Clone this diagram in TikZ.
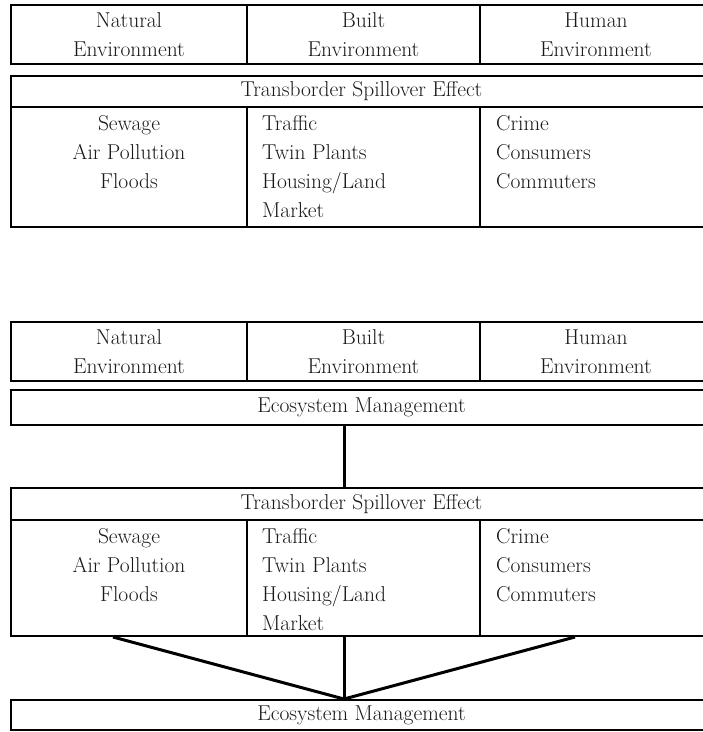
\documentclass[tikz,border=0pt]{standalone}
\usepackage{tikz}
\usetikzlibrary{positioning}

\newcommand{\diagfont}{\fontsize{21.5}{29}\selectfont}

\begin{document}
\begin{tikzpicture}[x=1pt, y=-1pt]
  \tikzset{
    cell/.style={draw, rectangle, line width=2.2pt, inner sep=0pt, outer sep=0pt, font=\diagfont, text=black!90},
    head/.style={cell, minimum height=59pt, align=center},
    bar/.style={cell, minimum width=701pt},
    txt/.style={inner sep=0pt, font=\diagfont, text=black!90},
    link/.style={line width=3pt}
  }
  \useasboundingbox (0,0) rectangle (703,732);

  % upper table
  \node[head, minimum width=236pt] (nat1) at (129,34.5) {Natural\\Environment};
  \node[head, minimum width=233pt, right=0pt of nat1] (blt1) {Built\\Environment};
  \node[head, minimum width=232pt, right=0pt of blt1] (hum1) {Human\\Environment};
  \node[bar, minimum height=31pt, below right=12pt and 0pt of nat1.south west] (spill1) {Transborder Spillover Effect};
  \node[cell, minimum width=236pt, minimum height=120pt, below right=0pt and 0pt of spill1.south west] (pol1) {};
  \node[cell, minimum width=233pt, minimum height=120pt, right=0pt of pol1] (bld1) {};
  \node[cell, minimum width=232pt, minimum height=120pt, right=0pt of bld1] (soc1) {};
  \node[txt, align=center, below=8pt of pol1.north] (pol1t) {Sewage\\Air Pollution\\Floods};
  \node[txt, align=left, below right=8pt and 15pt of bld1.north west] (bld1t) {Traffic\\Twin Plants\\Housing/Land\\Market};
  \node[txt, align=left, below right=8pt and 16pt of soc1.north west] (soc1t) {Crime\\Consumers\\Commuters};

  % lower table
  \node[head, minimum width=236pt, below right=95pt and 0pt of pol1.south west] (nat2) {Natural\\Environment};
  \node[head, minimum width=233pt, right=0pt of nat2] (blt2) {Built\\Environment};
  \node[head, minimum width=232pt, right=0pt of blt2] (hum2) {Human\\Environment};
  \node[bar, minimum height=35pt, below right=9pt and 0pt of nat2.south west] (eco1) {Ecosystem Management};
  \node[bar, minimum height=32pt, below right=63pt and 0pt of eco1.south west] (spill2) {Transborder Spillover Effect};
  \node[cell, minimum width=236pt, minimum height=116pt, below right=0pt and 0pt of spill2.south west] (pol2) {};
  \node[cell, minimum width=233pt, minimum height=116pt, right=0pt of pol2] (bld2) {};
  \node[cell, minimum width=232pt, minimum height=116pt, right=0pt of bld2] (soc2) {};
  \node[txt, align=center, below=8pt of pol2.north] (pol2t) {Sewage\\Air Pollution\\Floods};
  \node[txt, align=left, below right=8pt and 15pt of bld2.north west] (bld2t) {Traffic\\Twin Plants\\Housing/Land\\Market};
  \node[txt, align=left, below right=8pt and 16pt of soc2.north west] (soc2t) {Crime\\Consumers\\Commuters};
  \node[bar, minimum height=30pt, below right=64pt and 0pt of pol2.south west] (eco2) {Ecosystem Management};

  % connectors
  \coordinate (meet) at (344,699);
  \coordinate (lfoot) at (113,637);
  \coordinate (rfoot) at (575,637);
  \draw[link] (eco1.south -| meet) -- (spill2.north -| meet);
  \draw[link] (bld2.south -| meet) -- (meet);
  \draw[link] (lfoot) -- (meet) -- (rfoot);
\end{tikzpicture}
\end{document}
